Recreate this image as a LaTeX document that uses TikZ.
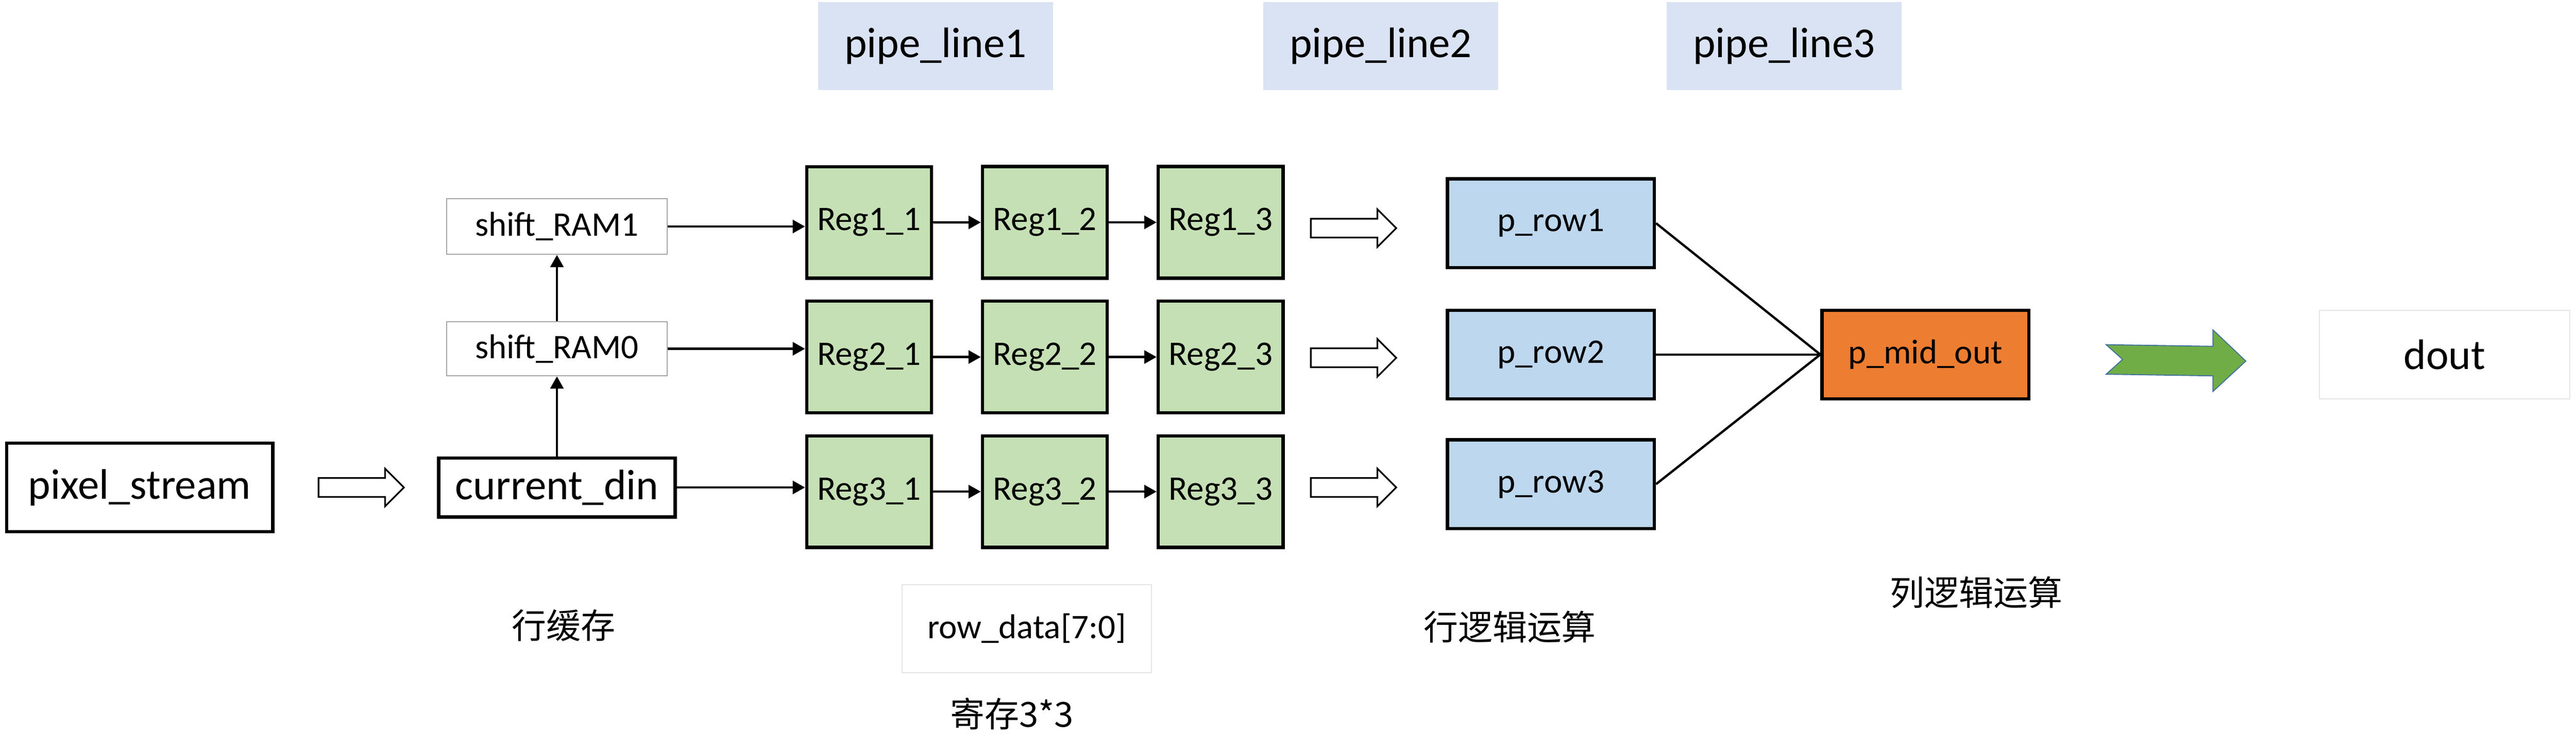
\documentclass[tikz,border=0pt]{standalone}
\usepackage{fontspec}
\setmainfont{Carlito}
\newfontfamily\cjk{Noto Sans CJK SC}
\usetikzlibrary{matrix,shapes.arrows,arrows.meta}
\definecolor{regGreen}{RGB}{197,224,180}
\definecolor{rowBlue}{RGB}{189,215,238}
\definecolor{midOrange}{RGB}{237,125,49}
\definecolor{pipeBlue}{RGB}{218,227,243}
\definecolor{arrowGreen}{RGB}{112,173,71}
\definecolor{arrowEdge}{RGB}{65,113,156}
\tikzset{
    bigtxt/.style={font=\fontsize{26}{30}\selectfont},
    smalltxt/.style={font=\fontsize{21}{25}\selectfont},
    thickbox/.style={draw,line width=2pt,inner sep=0pt},
    thinbox/.style={draw=gray!70,line width=0.6pt,inner sep=0pt},
    faintbox/.style={draw=gray!20,line width=0.6pt,inner sep=0pt},
    regbox/.style={thickbox,fill=regGreen,smalltxt,minimum width=76pt,minimum height=68pt},
    rowbox/.style={thickbox,fill=rowBlue,smalltxt,minimum width=126pt,minimum height=54pt},
    pipebox/.style={fill=pipeBlue,bigtxt,minimum width=143pt,minimum height=53.5pt,inner sep=0pt},
    hollow/.style={single arrow,draw,line width=1pt,minimum width=22pt,minimum height=52pt,single arrow head extend=5.75pt,inner sep=5.25pt},
    flow/.style={-{Triangle[length=7.5pt,width=8pt]},line width=1.4pt}
}
\begin{document}
\begin{tikzpicture}[x=1pt,y=-1pt]
                \useasboundingbox (0,0) rectangle (1568,458.5);
                \node[pipebox] (pipe1) at (569.5,28) {pipe\_line1};
                \node[pipebox] (pipe2) at (840.5,28) {pipe\_line2};
                \node[pipebox] (pipe3) at (1086,28) {pipe\_line3};
                \node[thickbox,bigtxt,minimum width=162pt,minimum height=54pt] (pix) at (85,297) {pixel\_stream};
                \node[hollow] (h0) at (217,297) {};
                \node[thickbox,bigtxt,minimum width=144pt,minimum height=36pt] (cur) at (339,297) {current\_din};
                \node[thinbox,smalltxt,minimum width=134pt,minimum height=33pt] (ram0) at (339,212.5) {shift\_RAM0};
                \node[thinbox,smalltxt,minimum width=134pt,minimum height=34pt] (ram1) at (339,138) {shift\_RAM1};
                \draw[flow] (cur) -- (ram0);
                \draw[flow] (ram0) -- (ram1);
                \matrix (reg) [matrix of nodes,nodes={regbox},column sep=29pt,row sep=12pt] at (636,217.5)
                {
                    Reg1\_1 & Reg1\_2 & Reg1\_3 \\
                    Reg2\_1 & Reg2\_2 & Reg2\_3 \\
                    Reg3\_1 & Reg3\_2 & Reg3\_3 \\
                };
                \draw[flow] (ram1.east) -- (ram1.east -| reg-1-1.west);
                \draw[flow] (ram0.east) -- (ram0.east -| reg-2-1.west);
                \draw[flow] (cur.east) -- (cur.east -| reg-3-1.west);
                \foreach \r in {1,2,3} {
                    \draw[flow] (reg-\r-1) -- (reg-\r-2);
                    \draw[flow] (reg-\r-2) -- (reg-\r-3);
                }
                \node[hollow] (h1) at (821,139) {};
                \node[hollow] (h2) at (821,218) {};
                \node[hollow] (h3) at (821,297) {};
                \node[rowbox] (prow1) at (944,136) {p\_row1};
                \node[rowbox] (prow2) at (944,216) {p\_row2};
                \node[rowbox] (prow3) at (944,295) {p\_row3};
                \node[thickbox,fill=midOrange,smalltxt,minimum width=126pt,minimum height=54pt] (pmid) at (1172,216) {p\_mid\_out};
                \foreach \r in {1,2,3}
                    \draw[line width=1.4pt] (prow\r.east) -- (pmid.west);
                % green arrow
                \filldraw[fill=arrowGreen,draw=arrowEdge,line width=0.6pt] (1282,210) -- (1347,211) -- (1347,201) -- (1367,220) -- (1347,238.5) -- (1347,229) -- (1282,228) -- (1292,219) -- cycle;
                \node[faintbox,bigtxt,minimum width=152.5pt,minimum height=54pt] (dout) at (1488,216) {dout};
                \node[faintbox,smalltxt,minimum width=152pt,minimum height=53.5pt] (rowdata) at (625,383) {row\_data[7:0]};
                \node[smalltxt] (lbuf) at (343,381) {\cjk 行缓存};
                \node[smalltxt] (lreg) at (616,435) {\cjk 寄存3*3};
                \node[smalltxt] (lrow) at (919,382) {\cjk 行逻辑运算};
                \node[smalltxt] (lcol) at (1203,361) {\cjk 列逻辑运算};
            \end{tikzpicture}
\end{document}
